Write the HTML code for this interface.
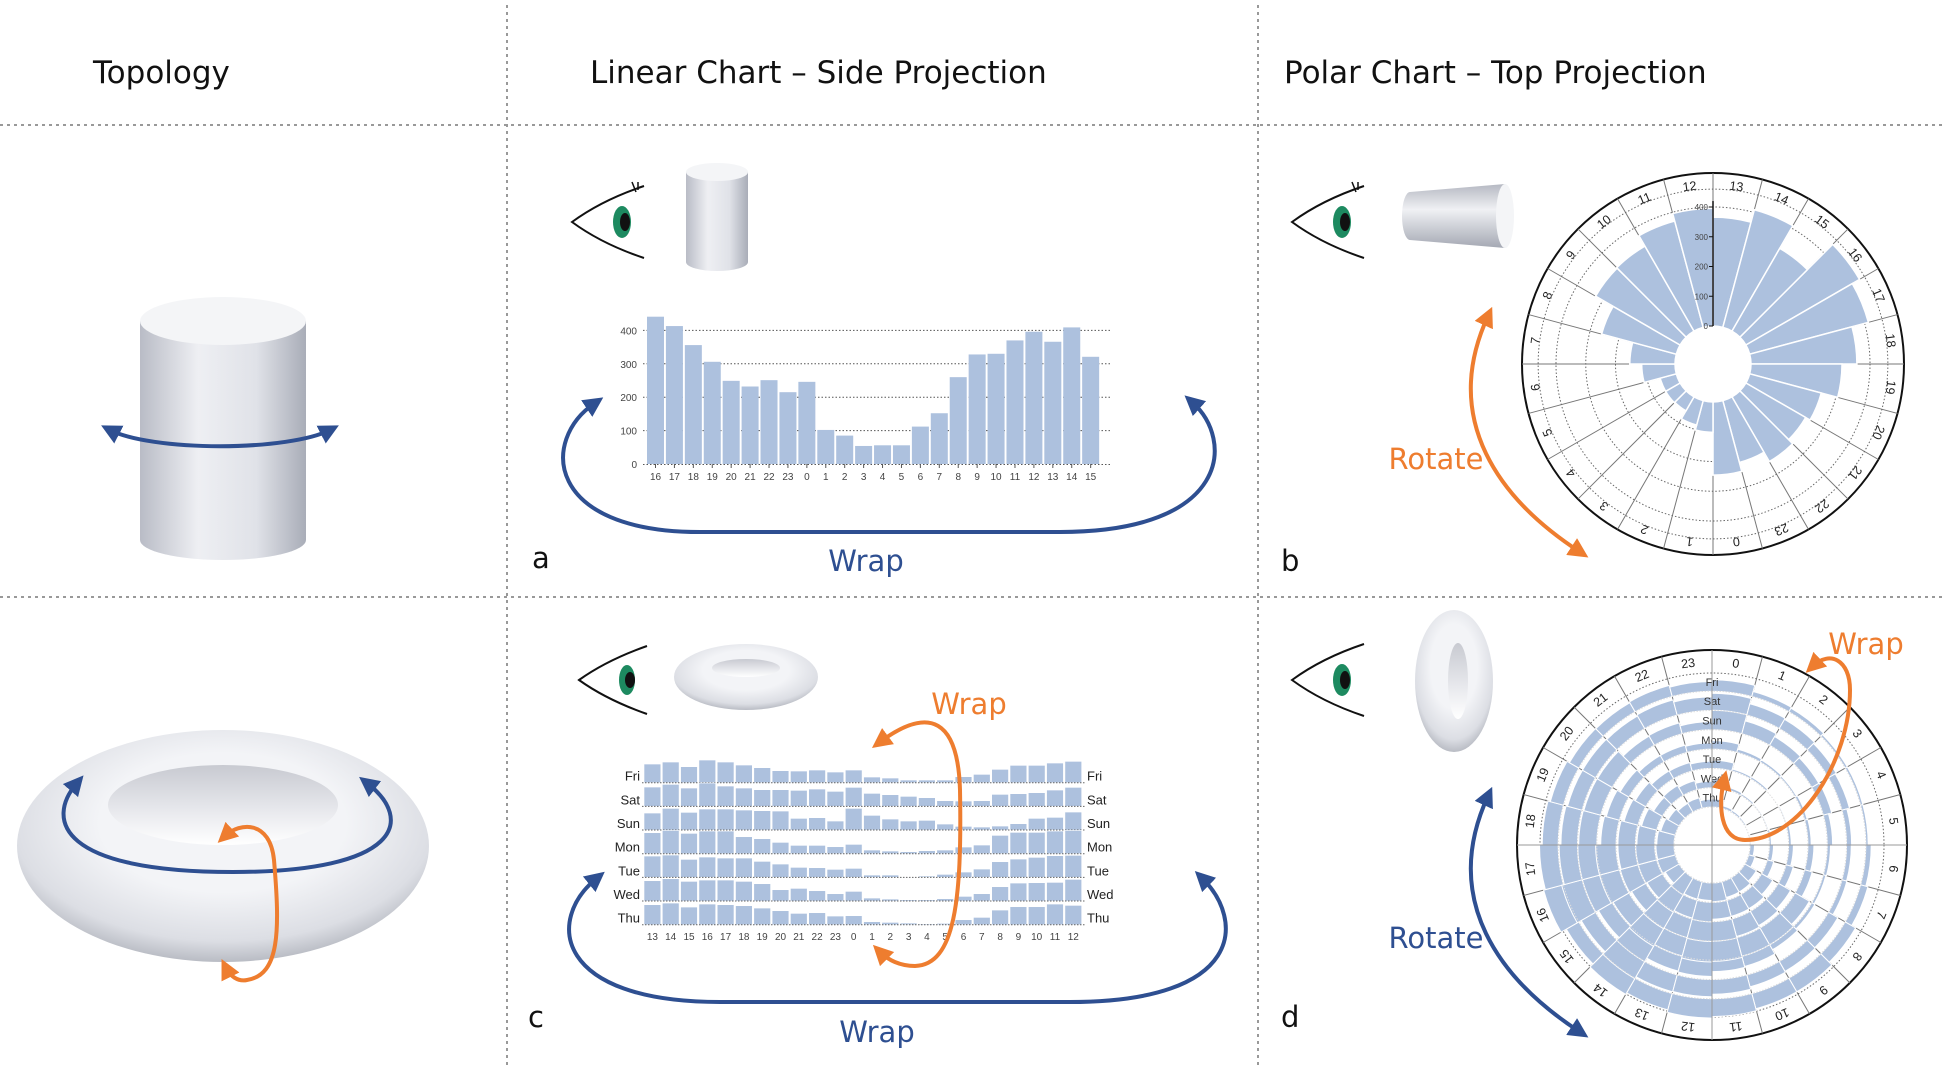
<!DOCTYPE html>
<html><head><meta charset="utf-8"><style>
html,body{margin:0;padding:0;background:#fff;}
svg{display:block;font-family:"Liberation Sans",sans-serif;}
.ttl{font-family:"DejaVu Sans","Liberation Sans",sans-serif;font-size:31px;fill:#111;}
.lbl{font-family:"DejaVu Sans","Liberation Sans",sans-serif;font-size:29px;}
.tk{font-size:10px;fill:#444;}
</style></head><body>
<svg id="root" width="1943" height="1065" viewBox="0 0 1943 1065">
<defs>
<linearGradient id="cylG" x1="0" x2="1" y1="0" y2="0"><stop offset="0" stop-color="#b9bcc6"/><stop offset="0.35" stop-color="#eeeff3"/><stop offset="0.7" stop-color="#e0e2e8"/><stop offset="1" stop-color="#a9adb8"/></linearGradient>
<linearGradient id="cylH" x1="0" x2="0" y1="0" y2="1"><stop offset="0" stop-color="#b5b8c2"/><stop offset="0.4" stop-color="#f0f1f4"/><stop offset="1" stop-color="#a4a8b3"/></linearGradient>
<radialGradient id="torG" cx="0.5" cy="0.4" r="0.6"><stop offset="0.5" stop-color="#f3f4f7"/><stop offset="0.85" stop-color="#dcdee4"/><stop offset="1" stop-color="#b9bcc4"/></radialGradient>
<linearGradient id="holeG" x1="0" x2="0" y1="0" y2="1"><stop offset="0" stop-color="#c8cad1"/><stop offset="0.6" stop-color="#e9eaee"/><stop offset="1" stop-color="#ffffff"/></linearGradient>
<marker id="arB" viewBox="0 0 10 10" refX="5" refY="5" markerWidth="5" markerHeight="5" orient="auto-start-reverse"><path d="M0 0L10 5L0 10z" fill="#2e4f91"/></marker>
<marker id="arO" viewBox="0 0 10 10" refX="5" refY="5" markerWidth="5" markerHeight="5" orient="auto-start-reverse"><path d="M0 0L10 5L0 10z" fill="#ee7d2f"/></marker>
</defs>
<g id="grid">
<line x1="507" y1="5" x2="507" y2="1065" stroke="#999" stroke-width="2" stroke-dasharray="3,4"/>
<line x1="1258" y1="5" x2="1258" y2="1065" stroke="#999" stroke-width="2" stroke-dasharray="3,4"/>
<line x1="0" y1="125" x2="1943" y2="125" stroke="#999" stroke-width="2" stroke-dasharray="3,4"/>
<line x1="0" y1="597" x2="1943" y2="597" stroke="#999" stroke-width="2" stroke-dasharray="3,4"/>
</g>
<text class="ttl" x="93" y="83">Topology</text>
<text class="ttl" x="590" y="83">Linear Chart – Side Projection</text>
<text class="ttl" x="1284" y="83">Polar Chart – Top Projection</text>
<text class="lbl" x="532" y="568" fill="#111">a</text>
<text class="lbl" x="1281" y="571" fill="#111">b</text>
<text class="lbl" x="528" y="1027" fill="#111">c</text>
<text class="lbl" x="1281" y="1027" fill="#111">d</text>
<text class="lbl" x="866" y="571" fill="#2e4f91" text-anchor="middle">Wrap</text>
<text class="lbl" x="1436" y="469" fill="#ee7d2f" text-anchor="middle">Rotate</text>
<text class="lbl" x="969" y="714" fill="#ee7d2f" text-anchor="middle">Wrap</text>
<text class="lbl" x="877" y="1042" fill="#2e4f91" text-anchor="middle">Wrap</text>
<text class="lbl" x="1436" y="948" fill="#2e4f91" text-anchor="middle">Rotate</text>
<text class="lbl" x="1866" y="654" fill="#ee7d2f" text-anchor="middle">Wrap</text>

<g>
<path d="M140 321 L140 540 A83 20 0 0 0 306 540 L306 321 Z" fill="url(#cylG)"/>
<ellipse cx="223" cy="321" rx="83" ry="24" fill="#f4f5f7"/>
</g>
<path d="M110 430 A120 27 0 0 0 330 430" fill="none" stroke="#2e4f91" stroke-width="4" marker-start="url(#arB)" marker-end="url(#arB)"/>
<g>
<ellipse cx="223" cy="846" rx="206" ry="116" fill="url(#torG)"/>
<ellipse cx="223" cy="805" rx="115" ry="40" fill="url(#holeG)"/>
</g>
<path d="M77 783 C45 820,60 872,233 872 C400 872,415 820,367 783" fill="none" stroke="#2e4f91" stroke-width="4" marker-start="url(#arB)" marker-end="url(#arB)"/>
<path d="M225 836 C240 822,270 820,274 860 C280 930,280 975,247 980 C238 982,230 976,226 968" fill="none" stroke="#ee7d2f" stroke-width="4" marker-start="url(#arO)" marker-end="url(#arO)"/>

<g transform="translate(572,182)">
<path d="M72 4 Q30 18 0 40 Q30 62 72 76" fill="none" stroke="#111" stroke-width="2"/>
<ellipse cx="50" cy="40" rx="9" ry="16" fill="#1d8a60"/><ellipse cx="53" cy="40" rx="5" ry="9" fill="#111"/>
<path d="M60 0 L64 10 M66 0 L66 8" stroke="#111" stroke-width="1.5"/>
</g>
<g>
<path d="M686 172 L686 262 A31 9 0 0 0 748 262 L748 172 Z" fill="url(#cylG)"/>
<ellipse cx="717" cy="172" rx="31" ry="9" fill="#f4f5f7"/>
</g>
<g transform="translate(1292,182)">
<path d="M72 4 Q30 18 0 40 Q30 62 72 76" fill="none" stroke="#111" stroke-width="2"/>
<ellipse cx="50" cy="40" rx="9" ry="16" fill="#1d8a60"/><ellipse cx="53" cy="40" rx="5" ry="9" fill="#111"/>
<path d="M60 0 L64 10 M66 0 L66 8" stroke="#111" stroke-width="1.5"/>
</g>
<g>
<path d="M1410 192 L1505 184 L1505 248 L1410 240 A8 24 0 0 1 1410 192 Z" fill="url(#cylH)"/>
<ellipse cx="1505" cy="216" rx="9" ry="32" fill="#f4f5f7"/>
</g>
<g transform="translate(579,642)">
<path d="M68 4 Q28 18 0 38 Q28 58 68 72" fill="none" stroke="#111" stroke-width="2"/>
<ellipse cx="48" cy="38" rx="8" ry="15" fill="#1d8a60"/><ellipse cx="51" cy="38" rx="5" ry="8" fill="#111"/>
</g>
<g>
<ellipse cx="746" cy="677" rx="72" ry="33" fill="url(#torG)"/>
<ellipse cx="746" cy="668" rx="34" ry="9" fill="url(#holeG)"/>
</g>
<g transform="translate(1292,640)">
<path d="M72 4 Q30 18 0 40 Q30 62 72 76" fill="none" stroke="#111" stroke-width="2"/>
<ellipse cx="50" cy="40" rx="9" ry="16" fill="#1d8a60"/><ellipse cx="53" cy="40" rx="5" ry="9" fill="#111"/>
</g>
<g>
<ellipse cx="1454" cy="681" rx="39" ry="71" fill="url(#torG)"/>
<ellipse cx="1458" cy="681" rx="10" ry="38" fill="url(#holeG)"/>
</g>

<g id="chartA"></g>
<g id="chartC"></g>
<g id="chartB"></g>
<g id="chartD"></g>

<path d="M595 403 C540 440,545 532,700 532 L1060 532 C1230 532,1235 440,1192 402" fill="none" stroke="#2e4f91" stroke-width="4" marker-start="url(#arB)" marker-end="url(#arB)"/>
<path d="M1488 316 C1440 420,1500 500,1580 552" fill="none" stroke="#ee7d2f" stroke-width="4" marker-start="url(#arO)" marker-end="url(#arO)"/>
<path d="M597 878 C545 920,555 1002,720 1002 L1070 1002 C1245 1002,1245 920,1202 878" fill="none" stroke="#2e4f91" stroke-width="4" marker-start="url(#arB)" marker-end="url(#arB)"/>
<path d="M880 742 C930 705,958 720,960 790 C962 900,955 965,915 966 C900 966,888 960,880 952" fill="none" stroke="#ee7d2f" stroke-width="4" marker-start="url(#arO)" marker-end="url(#arO)"/>
<path d="M1488 796 C1440 900,1500 980,1580 1032" fill="none" stroke="#2e4f91" stroke-width="4" marker-start="url(#arB)" marker-end="url(#arB)"/>
<path d="M1813 666 C1830 650,1850 660,1850 690 C1850 760,1800 840,1745 840 C1720 840,1718 805,1724 780" fill="none" stroke="#ee7d2f" stroke-width="4" marker-start="url(#arO)" marker-end="url(#arO)"/>
</svg>
<script>
const hoursA = [16,17,18,19,20,21,22,23,0,1,2,3,4,5,6,7,8,9,10,11,12,13,14,15];
const valuesA = [441,413,356,306,249,232,251,215,246,102,85,54,56,56,112,152,260,328,330,370,396,366,409,321];
const yTicksA = [0,100,200,300,400];
const hoursC = [13,14,15,16,17,18,19,20,21,22,23,0,1,2,3,4,5,6,7,8,9,10,11,12];
const days = ["Fri","Sat","Sun","Mon","Tue","Wed","Thu"];
const fri = [56,62,48,68,62,53,45,36,35,38,32,38,17,14,8,8,8,18,25,40,52,52,59,64];
const sat = [58,66,55,70,61,55,50,50,48,52,45,57,39,35,30,26,17,16,17,36,38,41,49,57];
const sun = [51,65,53,63,63,60,58,57,35,37,27,65,44,33,27,29,18,11,9,12,19,35,38,54];
const mon = [63,70,61,68,68,51,45,34,25,25,21,28,11,8,6,9,11,20,26,55,64,64,68,70];
const tue = [64,67,54,61,58,58,48,40,30,29,24,27,7,7,2,4,9,16,25,47,55,60,65,66];
const wed = [61,67,59,63,63,59,52,34,38,31,22,29,9,6,4,4,7,14,22,43,54,55,56,65];
const thu = [60,65,53,62,60,57,50,42,34,36,26,27,9,7,5,3,4,15,22,44,54,54,62,58];
const dayValues = [fri,sat,sun,mon,tue,wed,thu];
const NS="http://www.w3.org/2000/svg";
function mk(parent,tag,attrs,text){const e=document.createElementNS(NS,tag);for(const k in attrs)e.setAttribute(k,attrs[k]);if(text!==undefined)e.textContent=text;parent.appendChild(e);return e;}
const BAR="#adc1de";
const gA=document.getElementById('chartA');
const xA=i=>647+i*18.92, yA=v=>464-v*0.334;
yTicksA.forEach(t=>{
  if(t>0){const l=mk(gA,'line',{x1:643,x2:1110,y1:yA(t),y2:yA(t),stroke:'#555','stroke-dasharray':'1.5,2','stroke-width':1});
  
  }
  const tx=mk(gA,'text',{x:637,y:yA(t)+4,'text-anchor':'end',class:'tk'},t);
  
  
});
valuesA.forEach((v,i)=>{
  const r=mk(gA,'rect',{x:xA(i),y:yA(v),width:17,height:464-yA(v),fill:BAR});
  
  
  const t=mk(gA,'text',{x:xA(i)+8.5,y:480,'text-anchor':'middle',class:'tk'},hoursA[i]);
  
  
  mk(gA,'line',{x1:xA(i)+8.5,x2:xA(i)+8.5,y1:464,y2:468,stroke:'#555'});
});
mk(gA,'line',{x1:643,x2:1110,y1:464.5,y2:464.5,stroke:'#555','stroke-dasharray':'1.5,2'});
const gC=document.getElementById('chartC');
const xC=i=>644+i*18.3, yC=r=>782.7+r*23.67;
dayValues.forEach((row,r)=>{
  const b=yC(r);
  row.forEach((v,i)=>{
    const h=v/3;
    const e=mk(gC,'rect',{x:xC(i),y:b-h,width:16.8,height:h,fill:BAR,stroke:'#fff','stroke-width':0.6});
    
    
  });
  mk(gC,'line',{x1:642,x2:1085,y1:b,y2:b,stroke:'#666','stroke-dasharray':'1.5,1.5'});
  const l1=mk(gC,'text',{x:640,y:b-2,'text-anchor':'end','font-size':13,fill:'#222'},days[r]);
  
  
  const l2=mk(gC,'text',{x:1087,y:b-2,'font-size':13,fill:'#222'},days[r]);
  
  
});
hoursC.forEach((h,i)=>{
  const t=mk(gC,'text',{x:xC(i)+8.4,y:940,'text-anchor':'middle',class:'tk'},h);
  
  
});
function pt(cx,cy,r,a){const t=a*Math.PI/180;return [cx+r*Math.sin(t),cy-r*Math.cos(t)];}
function wedge(cx,cy,r1,r2,a1,a2){const p1=pt(cx,cy,r2,a1),p2=pt(cx,cy,r2,a2),p3=pt(cx,cy,r1,a2),p4=pt(cx,cy,r1,a1);
 return `M${p1[0]} ${p1[1]}A${r2} ${r2} 0 0 1 ${p2[0]} ${p2[1]}L${p3[0]} ${p3[1]}A${r1} ${r1} 0 0 0 ${p4[0]} ${p4[1]}Z`;}
function polarFrame(g,cx,cy,R,r0,startOf,name){
  mk(g,'circle',{cx,cy,r:R,fill:'#fff',stroke:'#111','stroke-width':2});
  for(let h=0;h<24;h++){const a=startOf(h);const p1=pt(cx,cy,r0,a),p2=pt(cx,cy,R,a);
    mk(g,'line',{x1:p1[0],y1:p1[1],x2:p2[0],y2:p2[1],stroke:'#777','stroke-width':1});
    const c=a+7.5,lp=pt(cx,cy,R-12,c);
    const t=mk(g,'text',{x:lp[0],y:lp[1]+4,'text-anchor':'middle','font-size':12.5,fill:'#222',transform:`rotate(${c} ${lp[0]} ${lp[1]})`},h);
    
    }
}
const gB=document.getElementById('chartB');
const cxB=1713,cyB=364,RB=191,r0B=38,kB=119/400;
const startB=h=>((h-13)*15+360)%360;
polarFrame(gB,cxB,cyB,RB,r0B,startB,'polar-b');
[100,200,300,400,460].forEach(t=>mk(gB,'circle',{cx:cxB,cy:cyB,r:r0B+t*kB,fill:'none',stroke:'#666','stroke-dasharray':'1.5,2'}));
hoursA.forEach((h,i)=>{
  const a=startB(h);
  const w=mk(gB,'path',{d:wedge(cxB,cyB,r0B,r0B+valuesA[i]*kB,a,a+15),fill:BAR,stroke:'#fff','stroke-width':1.5});
  
  
});
mk(gB,'line',{x1:cxB,y1:cyB-r0B,x2:cxB,y2:cyB-r0B-420*kB,stroke:'#111','stroke-width':1.5});
yTicksA.forEach(t=>{const y=cyB-r0B-t*kB;mk(gB,'line',{x1:cxB-4,x2:cxB,y1:y,y2:y,stroke:'#111'});
  const tx=mk(gB,'text',{x:cxB-5,y:y+3,'text-anchor':'end','font-size':8,fill:'#444'},t);
  
  });
const gD=document.getElementById('chartD');
const cxD=1712,cyD=845,RD=195,r0D=38,ringW=19.3;
polarFrame(gD,cxD,cyD,RD,r0D,h=>h*15,'polar-d');
mk(gD,'circle',{cx:cxD,cy:cyD,r:172,fill:'none',stroke:'#666','stroke-dasharray':'1.5,2'});
dayValues.forEach((row,r)=>{
  const base=r0D+(6-r)*ringW;
  row.forEach((v,i)=>{
    const a=hoursC[i]*15;
    const w=mk(gD,'path',{d:wedge(cxD,cyD,base,base+v/64*ringW,a,a+15),fill:BAR,stroke:'#fff','stroke-width':1});
    
    
  });
});
dayValues.forEach((row,r)=>{
  const base=r0D+(6-r)*ringW;
  mk(gD,'circle',{cx:cxD,cy:cyD,r:base,fill:'none',stroke:'#ddd','stroke-dasharray':'1.5,1.5'});
  const t=mk(gD,'text',{x:cxD,y:cyD-base-ringW+14,'text-anchor':'middle','font-size':11,fill:'#333'},days[r]);
  
  
});
mk(gD,'line',{x1:cxD-RD,x2:cxD+RD,y1:cyD,y2:cyD,stroke:'#999'});
mk(gD,'line',{x1:cxD,x2:cxD,y1:cyD-RD,y2:cyD+RD,stroke:'#999'});
</script>
</body></html>
